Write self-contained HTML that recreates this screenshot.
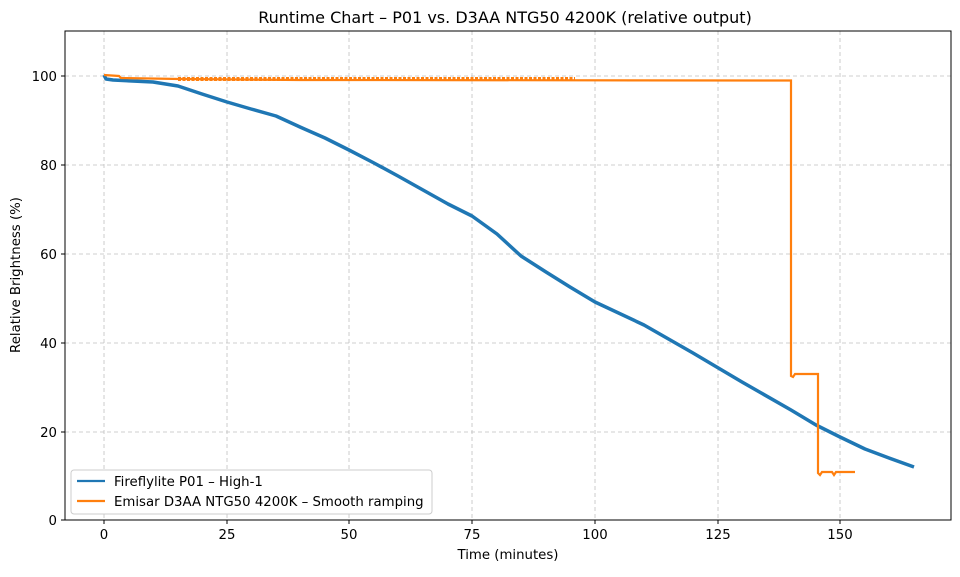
<!DOCTYPE html><html><head><style>body{margin:0;background:#fff}svg{font-family:"DejaVu Sans","Liberation Sans",sans-serif}</style></head><body>
<svg width="960" height="572" xmlns="http://www.w3.org/2000/svg">
<rect width="960" height="572" fill="#fff"/>
<g stroke="#b0b0b0" stroke-dasharray="4,3" stroke-width="0.8" opacity="0.8">
<line x1="104" y1="31" x2="104" y2="520"/><line x1="227" y1="31" x2="227" y2="520"/><line x1="349" y1="31" x2="349" y2="520"/><line x1="472" y1="31" x2="472" y2="520"/><line x1="595" y1="31" x2="595" y2="520"/><line x1="718" y1="31" x2="718" y2="520"/><line x1="840" y1="31" x2="840" y2="520"/>
<line x1="65" y1="432" x2="951" y2="432"/><line x1="65" y1="343" x2="951" y2="343"/><line x1="65" y1="254" x2="951" y2="254"/><line x1="65" y1="165" x2="951" y2="165"/><line x1="65" y1="76" x2="951" y2="76"/>
</g>
<polyline fill="none" stroke="#1f77b4" stroke-width="3.5" stroke-linejoin="round" points="104,75 106,79 113,80 153,82 178,86 202,94 227,102 251,109 276,116 300,127 325,138 349,150 374,163 398,176 423,190 448,204 472,216 497,234 521,256 546,272 570,287 595,302 644,325 693,353 742,382 791,410 816,425 840,437 865,449 889,458 914,467"/>
<polyline fill="none" stroke="#ff7f0e" stroke-width="2.2" points="104,75 119,76 121,78 180,79 300,80 791,80.5 791,376 793,377 795,374 818,374 818,473 820,475 822,472 832,472 834,475 836,472 855,472"/>
<line x1="178" y1="79" x2="575" y2="79" stroke="#ff7f0e" stroke-width="4" stroke-dasharray="3,1.5"/>
<rect x="65" y="31" width="886" height="489" fill="none" stroke="#000" stroke-width="1"/>
<g font-size="13.3" fill="#000" text-anchor="middle">
<g stroke="#000"><line x1="104" y1="520" x2="104" y2="524"/><line x1="227" y1="520" x2="227" y2="524"/><line x1="349" y1="520" x2="349" y2="524"/><line x1="472" y1="520" x2="472" y2="524"/><line x1="595" y1="520" x2="595" y2="524"/><line x1="718" y1="520" x2="718" y2="524"/><line x1="840" y1="520" x2="840" y2="524"/>
<line x1="61" y1="520" x2="65" y2="520"/><line x1="61" y1="432" x2="65" y2="432"/><line x1="61" y1="343" x2="65" y2="343"/><line x1="61" y1="254" x2="65" y2="254"/><line x1="61" y1="165" x2="65" y2="165"/><line x1="61" y1="76" x2="65" y2="76"/></g>
<text x="104" y="539">0</text><text x="227" y="539">25</text><text x="349" y="539">50</text><text x="472" y="539">75</text><text x="595" y="539">100</text><text x="718" y="539">125</text><text x="840" y="539">150</text>
<g text-anchor="end"><text x="57" y="525">0</text><text x="57" y="437">20</text><text x="57" y="348">40</text><text x="57" y="259">60</text><text x="57" y="170">80</text><text x="57" y="81">100</text></g>
<text x="508" y="559">Time (minutes)</text>
<text transform="translate(20,275) rotate(-90)">Relative Brightness (%)</text>
<text x="505" y="23" font-size="16">Runtime Chart – P01 vs. D3AA NTG50 4200K (relative output)</text>
</g>
<rect x="71" y="470" width="361" height="44" fill="#fff" stroke="#ccc" rx="3"/>
<line x1="77" y1="481" x2="105" y2="481" stroke="#1f77b4" stroke-width="2.2"/>
<line x1="77" y1="501" x2="105" y2="501" stroke="#ff7f0e" stroke-width="2.2"/>
<text x="114" y="486" font-size="13.3">Fireflylite P01 – High-1</text>
<text x="114" y="506" font-size="13.3">Emisar D3AA NTG50 4200K – Smooth ramping</text>
</svg></body></html>
